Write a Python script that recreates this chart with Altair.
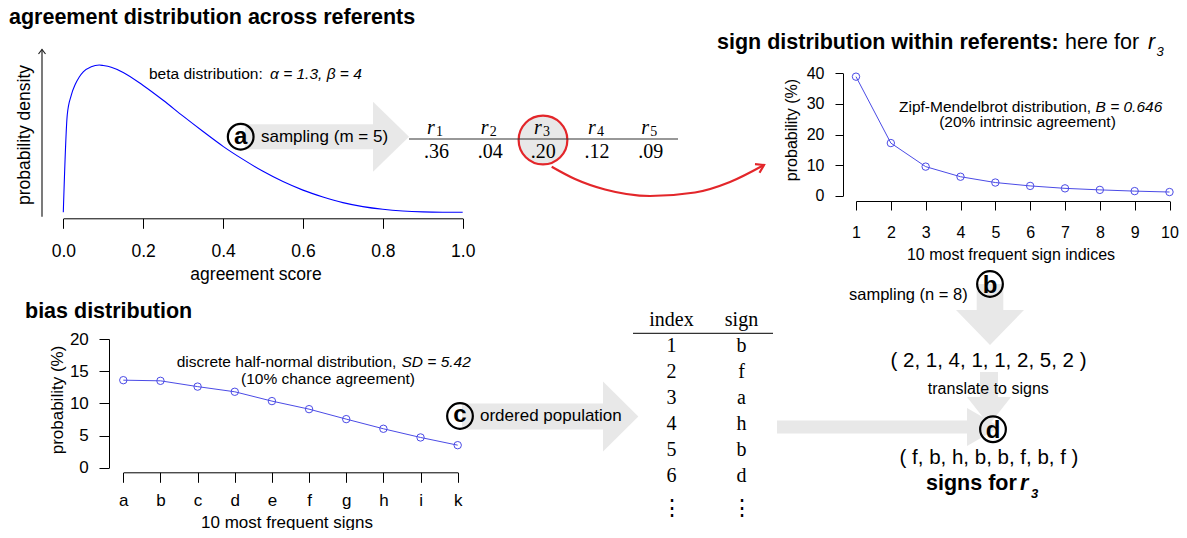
import math
import altair as alt
import pandas as pd

# ---------------- data ----------------
beta_x = [0, 0.01, 0.02, 0.03, 0.04, 0.05, 0.07, 0.09, 0.1, 0.12, 0.15, 0.2, 0.25, 0.3,
          0.35, 0.4, 0.45, 0.5, 0.55, 0.6, 0.65, 0.7, 0.75, 0.8, 0.85, 0.9, 0.95, 1.0]
beta_density = [0, 1.72, 2.06, 2.25, 2.38, 2.47, 2.56, 2.59, 2.58, 2.55, 2.46, 2.23, 1.97, 1.69,
                1.42, 1.16, 0.93, 0.72, 0.54, 0.39, 0.27, 0.17, 0.10, 0.053, 0.023, 0.007, 0.001, 0]

referents = ["1", "2", "3", "4", "5"]
agreement = [".36", ".04", ".20", ".12", ".09"]

zipf_index = [1, 2, 3, 4, 5, 6, 7, 8, 9, 10]
zipf_prob = [38.9, 17.2, 9.5, 6.2, 4.3, 3.2, 2.4, 1.9, 1.5, 1.2]

bias_signs = ["a", "b", "c", "d", "e", "f", "g", "h", "i", "k"]
bias_prob = [13.6, 13.5, 12.6, 11.8, 10.35, 9.1, 7.55, 6.05, 4.7, 3.5]

pop_index = ["1", "2", "3", "4", "5", "6"]
pop_sign = ["b", "f", "a", "h", "b", "d"]

sampled_idx = [2, 1, 4, 1, 1, 2, 5, 2]
sampled_sign = ["f", "b", "h", "b", "b", "f", "b", "f"]

# ---------------- layout / style ----------------
W, H, M = 1171, 522, 8
SANS = "Liberation Sans"
SERIF = "Liberation Serif"
BLUE_CURVE = "#0000ff"
BLUE = "#4b4be6"
RED = "#e3262a"
GREY = "#e8e8e8"
INK = "#000000"


def rng(a, b):
    return [a - M, b - M]


def lin(domain, a, b):
    return alt.Scale(domain=domain, range=rng(a, b), nice=False, zero=False)


XA = lin([0, 1187], 0, 1187)
YA = lin([0, 538], 0, 538)


def axis_x(ay, values, fs, tick, base_y, fmt=None):
    kw = dict(orient="bottom", offset=(ay - M) - H, title=None, grid=False,
              domainColor=INK, tickColor=INK, labelColor=INK, labelFont=SANS,
              labelFontSize=fs, tickSize=tick, labelPadding=base_y - ay - tick,
              labelBaseline="alphabetic", labelFlush=False, labelOverlap=False,
              labelAngle=0, domainWidth=1, tickWidth=1)
    if values is not None:
        kw["values"] = values
    if fmt:
        kw["format"] = fmt
    return alt.Axis(**kw)


def axis_y(ax_x, values, fs, tick, right_x):
    return alt.Axis(orient="left", offset=-(ax_x - M), values=values, title=None, grid=False,
                    domainColor=INK, tickColor=INK, labelColor=INK, labelFont=SANS,
                    labelFontSize=fs, tickSize=tick, labelPadding=ax_x - tick - right_x,
                    labelFlush=False, labelOverlap=False, labelAngle=0,
                    domainWidth=1, tickWidth=1)


def texts(xs, ys, ts, size=15.5, align="left", weight="normal", style="normal",
          font=SANS, angle=0, color=INK):
    n = len(ts)
    xs = xs if isinstance(xs, list) else [xs] * n
    ys = ys if isinstance(ys, list) else [ys] * n
    df = pd.DataFrame({"x": xs, "y": ys, "t": ts})
    return alt.Chart(df).mark_text(font=font, fontSize=size, align=align,
                                   baseline="alphabetic", fontWeight=weight,
                                   fontStyle=style, angle=angle, color=color).encode(
        x=alt.X("x:Q", scale=XA, axis=None),
        y=alt.Y("y:Q", scale=YA, axis=None),
        text="t:N")


def poly(xs, ys, color=INK, width=1.0, interp="linear"):
    df = pd.DataFrame({"x": xs, "y": ys, "o": list(range(len(xs)))})
    return alt.Chart(df).mark_line(color=color, strokeWidth=width, interpolate=interp).encode(
        x=alt.X("x:Q", scale=XA, axis=None),
        y=alt.Y("y:Q", scale=YA, axis=None),
        order="o:Q")


def box(x0, x1, y0, y1):
    df = pd.DataFrame({"x": [x0], "x2": [x1], "y": [y0], "y2": [y1]})
    return alt.Chart(df).mark_rect(color=GREY, opacity=1, strokeWidth=0).encode(
        x=alt.X("x:Q", scale=XA, axis=None), x2="x2:Q",
        y=alt.Y("y:Q", scale=YA, axis=None), y2="y2:Q")


def head(x, y, half, length, direction="right"):
    k = length / half
    if direction == "right":
        path = f"M 0 -1 L {k:.4f} 0 L 0 1 Z"
    else:
        path = f"M -1 0 L 1 0 L 0 {k:.4f} Z"
    df = pd.DataFrame({"x": [x], "y": [y]})
    return alt.Chart(df).mark_point(shape=path, size=(2 * half) ** 2, filled=True,
                                    color=GREY, opacity=1, strokeWidth=0).encode(
        x=alt.X("x:Q", scale=XA, axis=None),
        y=alt.Y("y:Q", scale=YA, axis=None))


def harrow(x0, x1, xt, yc, bh, hh):
    return [box(x0, x1 + 0.5, yc - bh, yc + bh), head(x1, yc, hh, xt - x1, "right")]


def varrow(y0, y1, yt, xc, bw, hw):
    return [box(xc - bw, xc + bw, y0, y1 + 0.5), head(xc, y1, hw, yt - y1, "down")]


def rings(xs, ys, r, stroke=INK, width=2.2, fill=None):
    df = pd.DataFrame({"x": xs, "y": ys})
    kw = dict(shape="circle", size=math.pi * r * r, stroke=stroke, strokeWidth=width, opacity=1)
    if fill:
        kw.update(filled=True, fill=fill, fillOpacity=1)
    else:
        kw.update(filled=False, fillOpacity=0)
    return alt.Chart(df).mark_point(**kw).encode(
        x=alt.X("x:Q", scale=XA, axis=None),
        y=alt.Y("y:Q", scale=YA, axis=None))


layers = []

# ---- grey flow arrows ----
layers += harrow(245, 373, 409, 136.7, 12.5, 35)      # a
layers += harrow(462, 603, 638.3, 416.5, 13, 35)      # c
layers += harrow(777, 967, 1000, 427, 6.5, 19)        # to d
layers += varrow(284, 310, 345, 990, 13.3, 34)        # b
layers += varrow(372, 397, 425, 989, 9, 22)           # translate

# ---- referent table ----
ref_head_x = [435, 488.7, 542, 596, 649.2]
ref_val_x = [436.5, 490.3, 543.3, 597, 650.7]
layers += [
    rings([543], [140], 27.5, stroke=RED, width=2.2, fill=GREY),
    poly([409, 678], [139, 139], color="#333333", width=1.2),
    texts([h - 4 for h in ref_head_x], 133.5, ["r"] * 5, size=20, align="center",
          style="italic", font=SERIF),
    texts([h + 4.5 for h in ref_head_x], 135.5, referents, size=14, align="center", font=SERIF),
    texts(ref_val_x, 158.3, agreement, size=20, align="center", font=SERIF),
]

# ---- population table ----
row_y = [352, 378, 404, 430, 456, 482]
layers += [
    poly([633, 773], [333.3, 333.3], color="#333333", width=1.2),
    texts([671.5, 741.5], 326, ["index", "sign"], size=20, align="center", font=SERIF),
    texts(671.5, row_y, pop_index, size=20, align="center", font=SERIF),
    texts(741.5, row_y, pop_sign, size=20, align="center", font=SERIF),
    texts([671.5, 741.5], 515, ["\u22ee", "\u22ee"], size=22, align="center", font="DejaVu Serif"),
]

# ---- beta distribution chart ----
beta_df = pd.DataFrame({"score": beta_x, "density": beta_density})
layers.append(
    alt.Chart(beta_df).mark_line(color=BLUE_CURVE, strokeWidth=1.1, interpolate="monotone").encode(
        x=alt.X("score:Q", scale=lin([0, 1], 63.3, 462.7),
                axis=axis_x(218.3, [0, 0.2, 0.4, 0.6, 0.8, 1.0], 17.5, 10, 256, ".1f")),
        y=alt.Y("density:Q", scale=lin([0, 2.59], 212.3, 65), axis=None))
)
layers += [
    poly([42, 42], [216.7, 49.5], color="#222222", width=1.2),
    poly([38.5, 42, 45.5], [54, 49.5, 54], color="#222222", width=1.2),
]

# ---- zipf chart ----
zipf_df = pd.DataFrame({"idx": zipf_index, "prob": zipf_prob})
zx = lin([1, 10], 856, 1169.5)
zy = lin([0, 40], 195.7, 73.3)
layers += [
    alt.Chart(zipf_df).mark_line(color=BLUE, strokeWidth=1).encode(
        x=alt.X("idx:Q", scale=zx, axis=axis_x(201, zipf_index, 16, 9, 237, "d")),
        y=alt.Y("prob:Q", scale=zy, axis=axis_y(843, [0, 10, 20, 30, 40], 16, 8, 824))),
    alt.Chart(zipf_df).mark_point(color=BLUE, size=55, strokeWidth=1, filled=False, opacity=1).encode(
        x=alt.X("idx:Q", scale=zx, axis=None),
        y=alt.Y("prob:Q", scale=zy, axis=None)),
]

# ---- bias chart ----
bias_df = pd.DataFrame({"sign": bias_signs, "prob": bias_prob})
bx = alt.Scale(type="point", domain=bias_signs, range=rng(123.3, 457.7), padding=0)
by = lin([0, 20], 467.7, 339)
layers += [
    alt.Chart(bias_df).mark_line(color=BLUE, strokeWidth=1).encode(
        x=alt.X("sign:N", scale=bx, sort=bias_signs, axis=axis_x(472.3, None, 17, 10, 505)),
        y=alt.Y("prob:Q", scale=by, axis=axis_y(109, [0, 5, 10, 15, 20], 17, 10, 88.3))),
    alt.Chart(bias_df).mark_point(color=BLUE, size=55, strokeWidth=1, filled=False, opacity=1).encode(
        x=alt.X("sign:N", scale=bx, sort=bias_signs, axis=None),
        y=alt.Y("prob:Q", scale=by, axis=None)),
]

# ---- red selection arrow ----
layers += [
    poly([551.7, 575, 605, 650, 695, 730, 764], [166.7, 179, 189.5, 196, 192.5, 182, 165],
         color=RED, width=2.2, interp="monotone"),
    poly([755, 764, 759.5], [164.2, 165, 172.8], color=RED, width=2.2),
]

# ---- step circles ----
layers.append(rings([240.7, 990, 460, 993], [136.7, 284, 416, 429.3], 14.5))
layers += [
    texts([240.7, 460], [143.5, 421.8], ["a", "c"], size=24, align="center", weight="bold"),
    texts([990, 993], [293, 438], ["b", "d"], size=24, align="center", weight="bold"),
]

# ---- titles ----
layers += [
    texts(9, 24, ["agreement distribution across referents"], size=21.5, weight="bold"),
    texts(25, 318, ["bias distribution"], size=21.5, weight="bold"),
    texts(717, 48.5, ["sign distribution within referents:"], size=21.5, weight="bold"),
    texts(1065, 48.5, ["here for"], size=21.5),
    texts(1148, 48.5, ["r"], size=21.5, style="italic"),
    texts(1156.5, 56, ["3"], size=13, style="italic"),
]

# ---- axis titles ----
layers += [
    texts(256, 279.5, ["agreement score"], size=17.5, align="center"),
    texts(29.5, 135, ["probability density"], size=17.5, align="center", angle=270),
    texts(1011, 260, ["10 most frequent sign indices"], size=16, align="center"),
    texts(797, 130, ["probability (%)"], size=16, align="center", angle=270),
    texts(287, 527.5, ["10 most frequent signs"], size=17, align="center"),
    texts(62.5, 400, ["probability (%)"], size=17, align="center", angle=270),
]

# ---- annotations ----
layers += [
    texts(149, 79, ["beta distribution:"], size=15.5),
    texts(270, 79, ["\u03b1 = 1.3, \u03b2 = 4"], size=15.5, style="italic"),
    texts(899, 111.5, ["Zipf-Mendelbrot distribution,"], size=15.5),
    texts(1095.5, 111.5, ["B = 0.646"], size=15.5, style="italic"),
    texts(1027.5, 127, ["(20% intrinsic agreement)"], size=15.5, align="center"),
    texts(176.7, 366.7, ["discrete half-normal distribution,"], size=15.5),
    texts(401.5, 366.7, ["SD = 5.42"], size=15.5, style="italic"),
    texts(328, 383.5, ["(10% chance agreement)"], size=15.5, align="center"),
]

# ---- flow labels ----
layers += [
    texts(261, 142, ["sampling (m = 5)"], size=17),
    texts(480, 420.7, ["ordered population"], size=17),
    texts(849, 300, ["sampling (n = 8)"], size=16.5),
    texts(988.5, 366.7, ["( " + ", ".join(str(v) for v in sampled_idx) + " )"], size=20.5, align="center"),
    texts(988.3, 393.5, ["translate to signs"], size=16, align="center"),
    texts(989, 463.5, ["( " + ", ".join(sampled_sign) + " )"], size=20.5, align="center"),
    texts(926, 490, ["signs for"], size=21.5, weight="bold"),
    texts(1020, 490, ["r"], size=21.5, weight="bold", style="italic"),
    texts(1031, 498, ["3"], size=13, weight="bold", style="italic"),
]

chart = alt.layer(*layers).resolve_scale(x="independent", y="independent").properties(
    width=W, height=H, autosize=alt.AutoSizeParams(type="none"), padding=0
).configure_view(stroke=None).configure_axis(grid=False)

chart.save("out.html", embed_options={"renderer": "svg", "actions": False})
